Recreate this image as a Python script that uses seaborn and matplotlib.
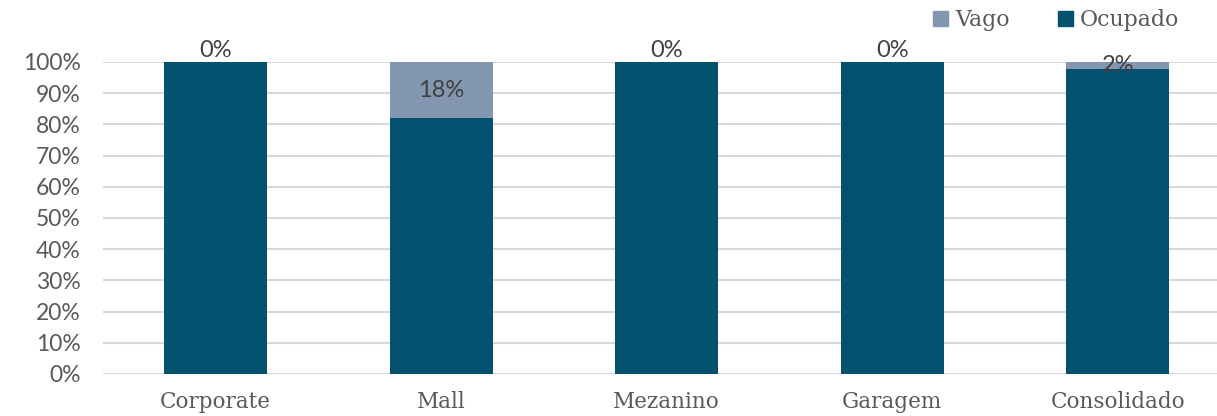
import pandas as pd
import seaborn as sns
import matplotlib.pyplot as plt
from matplotlib.patches import Patch

# dados (taxa de ocupação por área)
categorias = ["Corporate", "Mall", "Mezanino", "Garagem", "Consolidado"]
ocupado = [1.00, 0.82, 1.00, 1.00, 0.977]
vago = [0.00, 0.18, 0.00, 0.00, 0.023]
rotulos_vago = ["0%", "18%", "0%", "0%", "2%"]

cor_ocupado = "#03506F"
cor_vago = "#8497B0"

df = pd.DataFrame({"Categoria": categorias, "Ocupado": ocupado, "Vago": vago})
df["Total"] = df["Ocupado"] + df["Vago"]

sns.set_style("white")

fig = plt.figure(figsize=(12.17, 4.16), dpi=100)
ax = fig.add_axes([0.0846, 0.101, 0.9154, 0.75])

# barra total (vago) por baixo, ocupado por cima
sns.barplot(data=df, x="Categoria", y="Total", color=cor_vago, width=0.456,
            saturation=1, linewidth=0, ax=ax, zorder=2)
sns.barplot(data=df, x="Categoria", y="Ocupado", color=cor_ocupado, width=0.456,
            saturation=1, linewidth=0, ax=ax, zorder=3)

ax.set_ylim(0, 1.0)
ax.set_xlim(-0.5, 4.44)
ax.set_yticks([i / 10 for i in range(11)])
ax.set_yticklabels([f"{i*10}%" for i in range(11)], fontfamily="Lato",
                   fontsize=16.5, color="#595959")
ax.set_xticks(range(len(categorias)))
ax.set_xticklabels(categorias, fontfamily="DejaVu Serif", fontsize=15.5,
                   color="#595959")
ax.tick_params(axis="y", length=0, pad=16)
ax.tick_params(axis="x", length=0, pad=12)
ax.set_xlabel("")
ax.set_ylabel("")
ax.yaxis.grid(True, color="#D9D9D9", linewidth=1.5, zorder=0)
ax.set_axisbelow(True)
for s in ax.spines.values():
    s.set_visible(False)

# rótulos de vago no centro do segmento
for i, (o, v, txt) in enumerate(zip(ocupado, vago, rotulos_vago)):
    dy = 8 if v == 0 else 0
    ax.annotate(txt, (i, o + v / 2), xytext=(0, dy), textcoords="offset points",
                ha="center", va="center", fontfamily="Lato", fontsize=17,
                color="#404040", zorder=5, annotation_clip=False)

handles = [Patch(color=cor_vago, label="Vago"), Patch(color=cor_ocupado, label="Ocupado")]
fig.legend(handles=handles, loc="center right", bbox_to_anchor=(0.985, 0.952),
           ncol=2, frameon=False, handlelength=0.7, handleheight=0.7,
           handletextpad=0.3, columnspacing=2.2,
           prop={"family": "DejaVu Serif", "size": 15.8}, labelcolor="#595959")

fig.savefig("out.png", dpi=100)
